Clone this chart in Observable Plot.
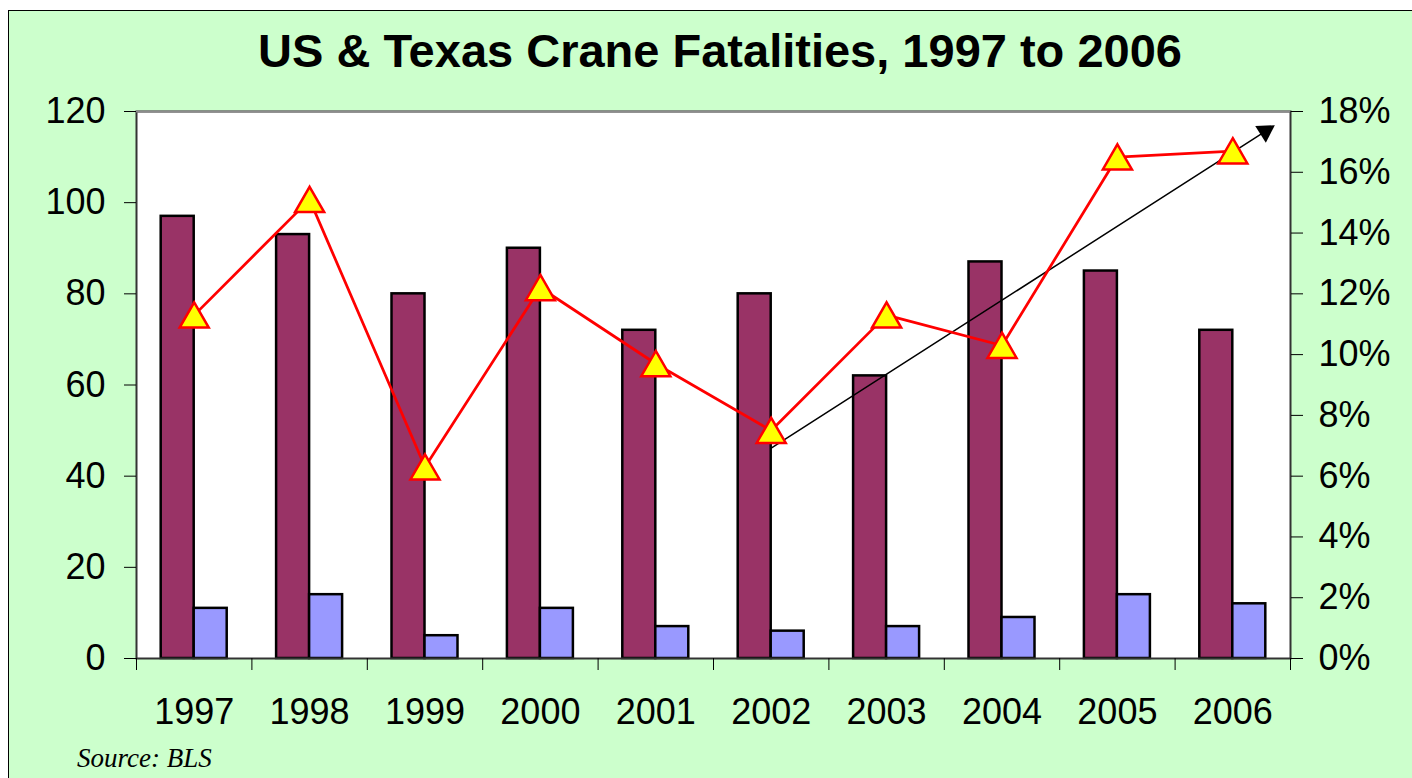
<!DOCTYPE html>
<html>
<head>
<meta charset="utf-8">
<script src="https://cdn.jsdelivr.net/npm/d3@7"></script>
<script src="https://cdn.jsdelivr.net/npm/@observablehq/plot@0.6"></script>
<style>
  html, body { margin: 0; padding: 0; background: #ffffff; }
  body { width: 1412px; height: 778px; overflow: hidden; position: relative; font-family: "Liberation Sans", Arial, sans-serif; }
  #panel { position: absolute; left: 8px; top: 10px; width: 1500px; height: 900px; background: #CCFFCC; border-left: 1.5px solid #000; border-top: 1.5px solid #000; }
  #wrap { position: relative; }
  #title { box-sizing: border-box; width: 1412px; height: 91px; padding-top: 28px; padding-left: 28px; font-size: 47px; line-height: 46px; font-weight: bold; text-align: center; color: #000; white-space: nowrap; }
  #chart svg { display: block; }
  #source { padding-top: 10px; padding-left: 77px; font-family: "Liberation Serif", "Times New Roman", serif; font-style: italic; font-size: 27px; line-height: 26px; color: #000; }
</style>
</head>
<body>
<div id="panel"></div>
<div id="wrap">
  <div id="title">US &amp; Texas Crane Fatalities, 1997 to 2006</div>
  <div id="chart"></div>
  <div id="source">Source: BLS</div>
</div>
<script>
// ---- data ----
const years = ["1997", "1998", "1999", "2000", "2001", "2002", "2003", "2004", "2005", "2006"];
const usFatalities = [97, 93, 80, 90, 72, 80, 62, 87, 85, 72];
const texasFatalities = [11, 14, 5, 11, 7, 6, 7, 9, 14, 12];
const texasSharePct = [11.3, 15.1, 6.3, 12.2, 9.7, 7.5, 11.3, 10.3, 16.5, 16.7];
const leftTicks = [0, 20, 40, 60, 80, 100, 120];
const rightTicksPct = [0, 2, 4, 6, 8, 10, 12, 14, 16, 18];
const trendArrow = [{from: "2002", fromPct: 6.92, to: "2006", toPct: 16.66}];

// ---- layout ----
const W = 1412, H = 644;
const mL = 136, mR = 122, mT = 20, mB = 77;
const step = (W - mL - mR) / years.length;
const half = step / 2;
const leftMax = 120, rightMax = 18;
const k = leftMax / rightMax; // percent -> left-axis units

const rows = years.map((y, i) => ({year: y, us: usFatalities[i], tx: texasFatalities[i], pct: texasSharePct[i]}));

const maroon = "#993366", blue = "#9999FF";
const pInner = 1 - 66 / step;

const chart = Plot.plot({
  width: W,
  height: H,
  marginLeft: mL,
  marginRight: mR,
  marginTop: mT,
  marginBottom: mB,
  style: {background: "transparent", fontFamily: "Liberation Sans, Arial, sans-serif", color: "#000", overflow: "visible"},
  x: {type: "band", domain: years, paddingInner: pInner, paddingOuter: pInner / 2, align: 0.5, round: false},
  y: {domain: [0, leftMax]},
  marks: [
    Plot.frame({fill: "white", stroke: null}),
    Plot.barY(rows, {x: "year", y: "us", fill: maroon, stroke: "black", strokeWidth: 2.5, insetRight: 33}),
    Plot.barY(rows, {x: "year", y: "tx", fill: blue, stroke: "black", strokeWidth: 2.5, insetLeft: 33}),
    Plot.arrow(trendArrow, {x1: "from", y1: d => d.fromPct * k, x2: "to", y2: d => d.toPct * k, stroke: "black", strokeWidth: 1.5, headLength: 0, insetEnd: -40}),
    Plot.dot(trendArrow, {x: "to", y: d => d.toPct * k, symbol: "triangle", r: 7.3, fill: "black", stroke: null, rotate: 57.3, dx: 32.5, dy: -20.9}),
    Plot.line(rows, {x: "year", y: d => d.pct * k, stroke: "#FF0000", strokeWidth: 2.75}),
    Plot.dot(rows, {x: "year", y: d => d.pct * k, symbol: "triangle", r: 10.8, fill: "#FFFF00", stroke: "#FF0000", strokeWidth: 2.5, dy: 4}),
    Plot.frame({stroke: "#333333", strokeWidth: 2, fill: null}),
    Plot.ruleY([leftMax], {stroke: "#8c8c8c", strokeWidth: 2}),
    Plot.axisY({anchor: "left", ticks: leftTicks, tickSize: 12, tickPadding: 19, fontSize: 36, label: null}),
    Plot.axisY({anchor: "right", ticks: rightTicksPct.map(p => p * k), tickFormat: v => Math.round(v / k) + "%", tickSize: 12, tickPadding: 16, fontSize: 36, label: null}),
    Plot.axisX({tickSize: 0, tickPadding: 40, fontSize: 36, label: null}),
    Plot.axisX({ticks: years, tickSize: 12, text: null, dx: -half, label: null}),
    Plot.axisX({ticks: [years[years.length - 1]], tickSize: 12, text: null, dx: half, label: null})
  ]
});
document.getElementById("chart").appendChild(chart);
</script>
</body>
</html>
